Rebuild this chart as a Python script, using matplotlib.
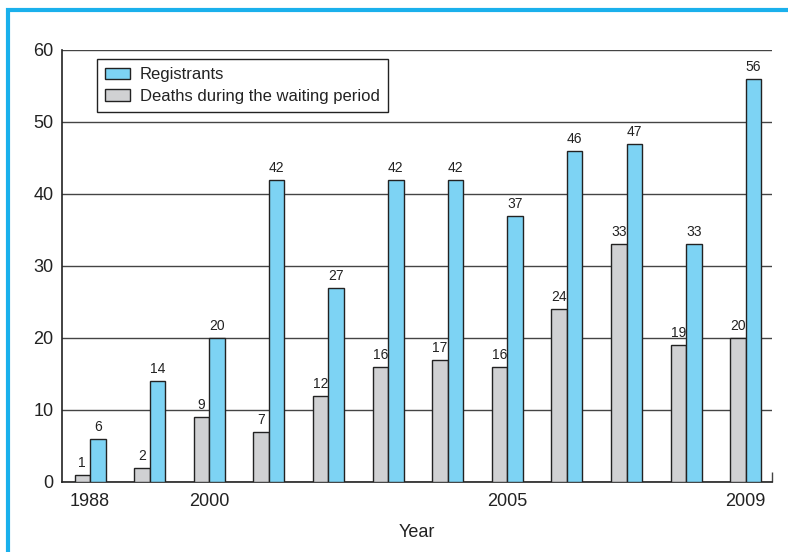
import matplotlib
matplotlib.use("Agg")
import matplotlib.pyplot as plt
from matplotlib.patches import Rectangle

# Data
groups = list(range(12))
registrants = [6, 14, 20, 42, 27, 42, 42, 37, 46, 47, 33, 56]
deaths = [1, 2, 9, 7, 12, 16, 17, 16, 24, 33, 19, 20]
tick_groups = [0, 2, 7, 11]
tick_labels = ["1988", "2000", "2005", "2009"]

plt.rcParams["font.family"] = ["Liberation Sans", "DejaVu Sans"]

blue = "#7DD3F4"
gray = "#D0D1D3"
edge = "#222222"
text_c = "#222222"

fig = plt.figure(figsize=(7.88, 5.52), dpi=100)
ax = fig.add_axes([62 / 788, 1 - 482 / 552, (772 - 62) / 788, (482 - 50) / 552])

# Frame around the figure
fig.patches.append(Rectangle((8 / 788, -0.05), 1.2, 1 - 10 / 552 + 0.05,
                             transform=fig.transFigure, fill=False,
                             edgecolor="#1AB0EC", linewidth=3, zorder=0))

w = 0.26
x = groups
b_d = ax.bar([i - w / 2 for i in x], deaths, width=w, color=gray,
             edgecolor=edge, linewidth=1, zorder=3,
             label="Deaths during the waiting period")
b_r = ax.bar([i + w / 2 for i in x], registrants, width=w, color=blue,
             edgecolor=edge, linewidth=1, zorder=3, label="Registrants")

lab_font = dict(fontsize=10, color=text_c)
for rect, v in zip(b_d, deaths):
    ax.text(rect.get_x() + rect.get_width() / 2, v + 0.7, str(v),
            ha="center", va="bottom", **lab_font)
for rect, v in zip(b_r, registrants):
    ax.text(rect.get_x() + rect.get_width() / 2, v + 0.7, str(v),
            ha="center", va="bottom", **lab_font)

ax.set_ylim(0, 60)
ax.set_xlim(-0.47, 11.44)
ax.set_yticks(range(0, 61, 10))
ax.tick_params(axis="y", length=0, labelsize=13, pad=6, labelcolor=text_c)
ax.set_xticks(tick_groups)
ax.set_xticklabels(tick_labels)
ax.tick_params(axis="x", length=0, labelsize=13, pad=8, labelcolor=text_c)
ax.set_xticks([11.44], minor=True)
ax.tick_params(axis="x", which="minor", direction="in", length=7, width=1,
               color="#444444")

ax.yaxis.grid(True, color="#444444", linewidth=1, zorder=0)
ax.set_axisbelow(True)
for s in ["top", "right"]:
    ax.spines[s].set_visible(False)
for s in ["left", "bottom"]:
    ax.spines[s].set_color(text_c)
    ax.spines[s].set_linewidth(1.2)

ax.set_xlabel("Year", fontsize=13, color=text_c, labelpad=10)

handles = [b_r, b_d]
leg = ax.legend(handles, [h.get_label() for h in handles],
                loc="upper left", bbox_to_anchor=(35 / 710, 1 - 9 / 432),
                borderaxespad=0, fontsize=12, frameon=True, fancybox=False,
                edgecolor=text_c, framealpha=1, borderpad=0.5,
                handlelength=1.45, handleheight=0.72, labelspacing=0.38,
                handletextpad=0.62)
leg.get_frame().set_linewidth(1)
for t in leg.get_texts():
    t.set_color(text_c)

fig.savefig("out.png", dpi=100)
